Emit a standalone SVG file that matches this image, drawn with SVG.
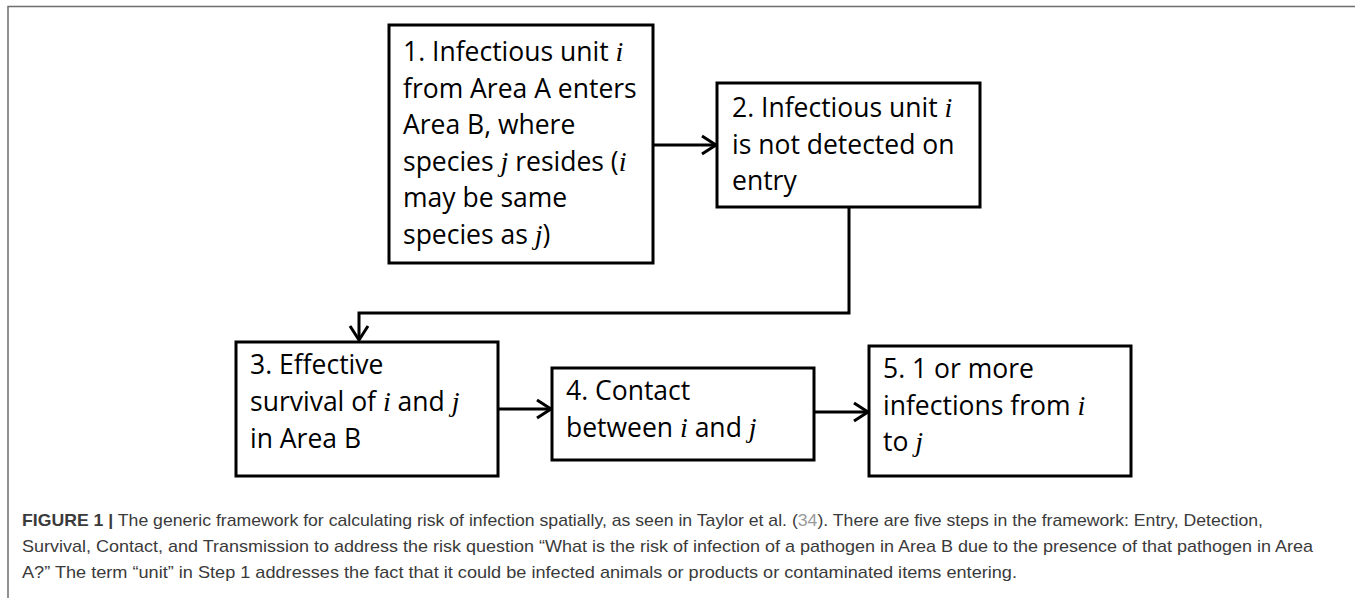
<svg xmlns="http://www.w3.org/2000/svg" width="1355" height="598" viewBox="0 0 1355 598">
<style>
.box{fill:#fff;stroke:#000;stroke-width:3}
.t{font-family:"Open Sans","Liberation Sans",sans-serif;font-size:26.5px;fill:#000}
.m{font-family:"Liberation Serif","DejaVu Serif",serif;font-style:italic;font-size:28px}
.cap{font-family:"Liberation Sans",Arial,sans-serif;font-size:17px;fill:#3a3a3a}
.con{fill:none;stroke:#000;stroke-width:3}
</style>
<defs>
<marker id="ah" markerUnits="userSpaceOnUse" markerWidth="22" markerHeight="24" refX="16" refY="11" orient="auto">
<path d="M2,2 L16,11 L2,20" fill="none" stroke="#000" stroke-width="3"/>
</marker>
</defs>
<rect width="1355" height="598" fill="#fff"/>
<path d="M8,598 V6.5 H1355" fill="none" stroke="#6e6e6e" stroke-width="1.5"/>
<g id="connectors">
<line class="con" x1="653" y1="145" x2="716" y2="145" marker-end="url(#ah)"/>
<polyline class="con" points="849,207 849,313 359,313 359,340" marker-end="url(#ah)"/>
<line class="con" x1="498" y1="409" x2="551" y2="409" marker-end="url(#ah)"/>
<line class="con" x1="814" y1="412" x2="868" y2="412" marker-end="url(#ah)"/>
</g>
<g id="n1">
<rect class="box" x="389" y="25" width="264" height="238"/>
<text class="t" x="403" y="61">1. Infectious unit <tspan class="m">i</tspan></text>
<text class="t" x="403" y="97.6">from Area A enters</text>
<text class="t" x="403" y="134.2">Area B, where</text>
<text class="t" x="403" y="170.8">species <tspan class="m">j</tspan> resides (<tspan class="m">i</tspan></text>
<text class="t" x="403" y="207.4">may be same</text>
<text class="t" x="403" y="244">species as <tspan class="m">j</tspan>)</text>
</g>
<g id="n2">
<rect class="box" x="717" y="83" width="263" height="124"/>
<text class="t" x="732" y="117">2. Infectious unit <tspan class="m">i</tspan></text>
<text class="t" x="732" y="153.6">is not detected on</text>
<text class="t" x="732" y="190.2">entry</text>
</g>
<g id="n3">
<rect class="box" x="236" y="342" width="262" height="134"/>
<text class="t" x="250" y="374">3. Effective</text>
<text class="t" x="250" y="411">survival of <tspan class="m">i</tspan> and <tspan class="m">j</tspan></text>
<text class="t" x="250" y="448">in Area B</text>
</g>
<g id="n4">
<rect class="box" x="552" y="368" width="262" height="92"/>
<text class="t" x="566" y="400">4. Contact</text>
<text class="t" x="566" y="437">between <tspan class="m">i</tspan> and <tspan class="m">j</tspan></text>
</g>
<g id="n5">
<rect class="box" x="869" y="346" width="262" height="130"/>
<text class="t" x="883" y="378">5. 1 or more</text>
<text class="t" x="883" y="414.6">infections from <tspan class="m">i</tspan></text>
<text class="t" x="883" y="451">to <tspan class="m">j</tspan></text>
</g>
<g id="caption">
<text class="cap" x="22" y="526" textLength="1241" lengthAdjust="spacingAndGlyphs"><tspan font-weight="bold">FIGURE 1 |</tspan> The generic framework for calculating risk of infection spatially, as seen in Taylor et al. (<tspan fill="#9a9a9a">34</tspan>). There are five steps in the framework: Entry, Detection,</text>
<text class="cap" x="22" y="552" textLength="1291" lengthAdjust="spacingAndGlyphs">Survival, Contact, and Transmission to address the risk question “What is the risk of infection of a pathogen in Area B due to the presence of that pathogen in Area</text>
<text class="cap" x="22" y="578" textLength="995" lengthAdjust="spacingAndGlyphs">A?” The term “unit” in Step 1 addresses the fact that it could be infected animals or products or contaminated items entering.</text>
</g>
</svg>
